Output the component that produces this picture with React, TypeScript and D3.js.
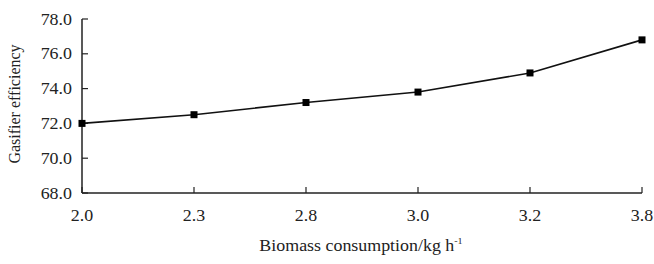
import * as d3 from 'd3'

const categories = ['2.0', '2.3', '2.8', '3.0', '3.2', '3.8']
const efficiency = [72.0, 72.5, 73.2, 73.8, 74.9, 76.8]
const yTicks = [68, 70, 72, 74, 76, 78]

const width = 654
const height = 264
const margin = { top: 19, right: 12, bottom: 71, left: 82 }
const font = '"Liberation Serif", "Times New Roman", serif'
// the reference text is a little stretched sideways
const sx = 1.12

export default function App(){
  const innerW = width - margin.left - margin.right
  const innerH = height - margin.top - margin.bottom

  const x = d3.scalePoint<string>().domain(categories).range([0, innerW]).padding(0)
  const y = d3.scaleLinear().domain([68, 78]).range([innerH, 0])

  const line = d3.line<number>()
    .x((_, i) => x(categories[i])!)
    .y(d => y(d))

  return (
    <svg width={width} height={height} style={{ position: 'absolute', left: 0, top: 0, background: '#fff' }}>
      <g transform={`translate(${margin.left},${margin.top})`} fontFamily={font} fill="#222">
        {/* y axis */}
        <line x1={0} x2={0} y1={0} y2={innerH} stroke="#222" strokeWidth={1.5} />
        {yTicks.map(t => (
          <g key={t} transform={`translate(0,${y(t)})`}>
            <line x1={0} x2={6} stroke="#222" strokeWidth={1.2} />
            <text transform={`translate(-10,0) scale(${sx},1)`} dy="0.35em" textAnchor="end" fontSize={16}>{t.toFixed(1)}</text>
          </g>
        ))}
        {/* x axis */}
        <line x1={0} x2={innerW} y1={innerH} y2={innerH} stroke="#222" strokeWidth={1.5} />
        {categories.map(c => (
          <g key={c} transform={`translate(${x(c)},${innerH})`}>
            <line y1={0} y2={-6} stroke="#222" strokeWidth={1.2} />
            <text transform={`translate(0,28) scale(${sx},1)`} textAnchor="middle" fontSize={16}>{c}</text>
          </g>
        ))}
        {/* series */}
        <path d={line(efficiency) ?? ''} fill="none" stroke="#111" strokeWidth={1.6} />
        {efficiency.map((v, i) => (
          <rect key={i} x={x(categories[i])! - 3.5} y={y(v) - 3.5} width={7} height={7} fill="#000" />
        ))}
        {/* titles */}
        <text transform={`translate(${innerW / 2 - 1},${innerH + 58}) scale(${sx},1)`} textAnchor="middle" fontSize={16}>
          Biomass consumption/kg h<tspan dy={-7} fontSize={9}>-1</tspan>
        </text>
        <text transform={`translate(${-62},${innerH / 2 - 2}) rotate(-90)`} textAnchor="middle" fontSize={16}>Gasifier efficiency</text>
      </g>
    </svg>
  )
}
